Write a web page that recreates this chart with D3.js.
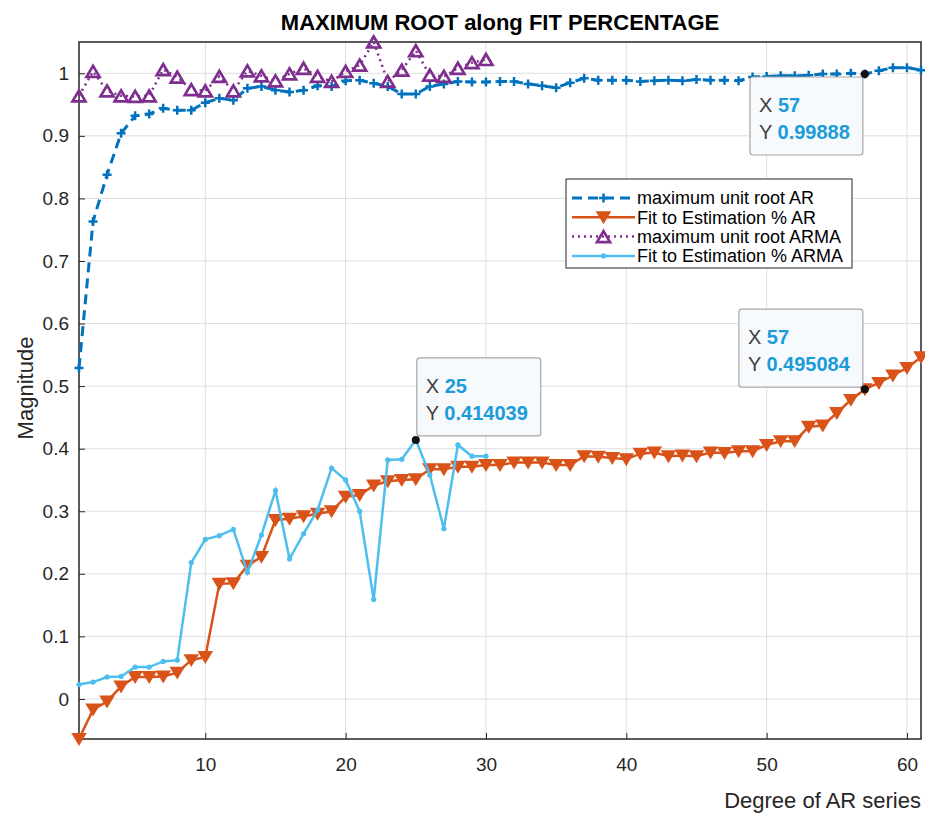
<!DOCTYPE html>
<html>
<head>
<meta charset="utf-8">
<script src="https://cdn.jsdelivr.net/npm/d3@7/dist/d3.min.js"></script>
<style>
  body { margin: 0; background: #fff; }
  svg { font-family: "Liberation Sans", Arial, sans-serif; }
</style>
</head>
<body>
<div id="chart"></div>
<script>

// values, one per AR degree (1..61) or ARMA degree (1..30)
const maxRootAR = [0.529, 0.763, 0.838, 0.904, 0.932, 0.935, 0.944, 0.941, 0.941, 0.953,
    0.960, 0.957, 0.976, 0.979, 0.973, 0.970, 0.973, 0.980, 0.979, 0.988,
    0.989, 0.984, 0.979, 0.967, 0.967, 0.979, 0.983, 0.987, 0.986, 0.986,
    0.987, 0.987, 0.983, 0.980, 0.977, 0.985, 0.992, 0.989, 0.989, 0.989,
    0.987, 0.988, 0.989, 0.988, 0.990, 0.989, 0.989, 0.988, 0.994, 0.995,
    0.996, 0.996, 0.997, 0.999, 0.999, 1.000, 0.99888, 1.004, 1.009, 1.009,
    1.005];

const fitAR = [-0.064, -0.017, -0.004, 0.020, 0.035, 0.035, 0.036, 0.042, 0.062, 0.067,
    0.184, 0.185, 0.213, 0.227, 0.286, 0.288, 0.292, 0.296, 0.300, 0.323,
    0.326, 0.341, 0.348, 0.350, 0.351, 0.367, 0.367, 0.371, 0.371, 0.374,
    0.374, 0.378, 0.378, 0.378, 0.374, 0.374, 0.388, 0.387, 0.385, 0.383,
    0.392, 0.394, 0.388, 0.389, 0.388, 0.394, 0.393, 0.396, 0.396, 0.406,
    0.412, 0.412, 0.435, 0.437, 0.457, 0.478, 0.495084, 0.505, 0.517, 0.529,
    0.546];

const maxRootARMA = [0.964, 1.003, 0.972, 0.964, 0.963, 0.964, 1.006, 0.994, 0.974, 0.972,
    0.995, 0.972, 1.004, 0.996, 0.988, 0.999, 1.008, 0.995, 0.987, 1.003,
    1.013, 1.050, 0.987, 1.005, 1.036, 0.997, 0.995, 1.008, 1.017, 1.022];

const fitARMA = [0.023, 0.027, 0.035, 0.036, 0.051, 0.051, 0.060, 0.062, 0.218, 0.255,
    0.261, 0.271, 0.202, 0.262, 0.333, 0.224, 0.264, 0.302, 0.369, 0.350,
    0.300, 0.159, 0.382, 0.383, 0.414039, 0.358, 0.272, 0.406, 0.388, 0.388];

const seriesNames = ["maximum unit root AR", "Fit to Estimation % AR",
    "maximum unit root ARMA", "Fit to Estimation % ARMA"];

const xTicks = [10, 20, 30, 40, 50, 60];
const yTicks = [0, 0.1, 0.2, 0.3, 0.4, 0.5, 0.6, 0.7, 0.8, 0.9, 1];

// data tips: series index, degree, shown value
const tipSeries = [0, 3, 1];
const tipDegree = [57, 25, 57];
const tipLabel = ["0.99888", "0.414039", "0.495084"];


const W = 925, H = 816;
const margin = {top: 42, right: 4, bottom: 77, left: 79};
const iw = W - margin.left - margin.right;
const ih = H - margin.top - margin.bottom;

const series = [
    {name: seriesNames[0], values: maxRootAR, color: "#0072BD", width: 3, dash: "10,6", marker: "plus"},
    {name: seriesNames[1], values: fitAR, color: "#D95319", width: 2.5, dash: null, marker: "down"},
    {name: seriesNames[2], values: maxRootARMA, color: "#7E2F8E", width: 2.5, dash: "2,4", marker: "up"},
    {name: seriesNames[3], values: fitARMA, color: "#4DBEEE", width: 2.5, dash: null, marker: "dot"}
];

const allValues = [].concat(maxRootAR, fitAR, maxRootARMA, fitARMA);

const x = d3.scaleLinear().domain([1, maxRootAR.length]).range([0, iw]);
const y = d3.scaleLinear().domain(d3.extent(allValues)).range([ih, 0]);

const svg = d3.select("#chart").append("svg")
    .attr("width", W)
    .attr("height", H);

const g = svg.append("g")
    .attr("transform", `translate(${margin.left},${margin.top})`);

// grid
g.append("g").selectAll("line")
    .data(xTicks)
    .enter().append("line")
        .attr("x1", d => x(d)).attr("x2", d => x(d))
        .attr("y1", 0).attr("y2", ih)
        .attr("stroke", "#dedede");

g.append("g").selectAll("line")
    .data(yTicks)
    .enter().append("line")
        .attr("x1", 0).attr("x2", iw)
        .attr("y1", d => y(d)).attr("y2", d => y(d))
        .attr("stroke", "#dedede");

// axes, MATLAB style: inward ticks
const xAxis = g.append("g")
    .attr("transform", `translate(0,${ih})`)
    .call(d3.axisBottom(x).tickValues(xTicks).tickSizeInner(-6).tickSizeOuter(0).tickPadding(19));

const yAxis = g.append("g")
    .call(d3.axisLeft(y).tickValues(yTicks).tickFormat(d3.format("~g")).tickSizeInner(-6).tickSizeOuter(0).tickPadding(10));

[xAxis, yAxis].forEach(a => {
    a.select(".domain").remove();
    a.selectAll("line").attr("stroke", "#262626");
    a.selectAll("text")
        .attr("fill", "#262626")
        .style("font-size", "19px")
        .style("font-family", "'Liberation Sans', Arial, sans-serif");
});

g.append("rect")
    .attr("width", iw).attr("height", ih)
    .attr("fill", "none")
    .attr("stroke", "#262626")
    .attr("stroke-width", 1.5);

function markerPath(type) {
    if (type === "down") return "M-6,-5L6,-5L0,5Z";
    if (type === "up") return "M-6.5,5.5L6.5,5.5L0,-5.5Z";
    if (type === "plus") return "M-4.5,0H4.5M0,-4.5V4.5";
    return null;
}

function drawMarker(sel, s) {
    if (s.marker === "dot") {
        sel.append("circle").attr("r", 2.6).attr("fill", s.color);
    } else {
        sel.append("path")
            .attr("d", markerPath(s.marker))
            .attr("fill", s.marker === "down" ? s.color : "none")
            .attr("stroke", s.color)
            .attr("stroke-width", s.marker === "plus" ? 2.5 : (s.marker === "up" ? 2.7 : 2))
            .attr("stroke-linejoin", "miter");
    }
}

const line = d3.line()
    .x((d, i) => x(i + 1))
    .y(d => y(d));

series.forEach(s => {
    const layer = g.append("g");

    layer.append("path")
        .datum(s.values)
        .attr("d", line)
        .attr("fill", "none")
        .attr("stroke", s.color)
        .attr("stroke-width", s.width)
        .attr("stroke-dasharray", s.dash);

    layer.selectAll("g")
        .data(s.values)
        .enter().append("g")
            .attr("transform", (d, i) => `translate(${x(i + 1)},${y(d)})`)
            .each(function () { drawMarker(d3.select(this), s); });
});

// legend
const legend = g.append("g")
    .attr("transform", `translate(${566 - margin.left},${179 - margin.top})`);

legend.append("rect")
    .attr("width", 286).attr("height", 89)
    .attr("fill", "#fff")
    .attr("stroke", "#262626")
    .attr("stroke-width", 1);

const rows = legend.selectAll("g.row")
    .data(series)
    .enter().append("g")
        .attr("class", "row")
        .attr("transform", (d, i) => `translate(0,${19 + i * 19.3})`);

rows.append("line")
    .attr("x1", 6).attr("x2", 69)
    .attr("stroke", d => d.color)
    .attr("stroke-width", d => d.width)
    .attr("stroke-dasharray", d => d.dash);

rows.append("g")
    .attr("transform", "translate(37.5,0)")
    .each(function (d) { drawMarker(d3.select(this), d); });

rows.append("text")
    .attr("x", 71)
    .attr("dy", "0.35em")
    .attr("fill", "#000")
    .style("font-size", "18px")
    .text(d => d.name);

// data tips
const tipGroup = g.append("g");

tipDegree.forEach((deg, k) => {
    const s = series[tipSeries[k]];
    const px = x(deg), py = y(s.values[deg - 1]);
    const tg = tipGroup.append("g");

    const box = tg.append("rect")
        .attr("rx", 3)
        .attr("fill", "#f7fafd")
        .attr("stroke", "#a6a6a6")
        .attr("stroke-width", 1.2);

    const t1 = tg.append("text").style("font-size", "20px");
    t1.append("tspan").attr("fill", "#404040").text("X ");
    t1.append("tspan").attr("fill", "#1b9bd8").attr("font-weight", "bold").text(deg);

    const t2 = tg.append("text").style("font-size", "20px");
    t2.append("tspan").attr("fill", "#404040").text("Y ");
    t2.append("tspan").attr("fill", "#1b9bd8").attr("font-weight", "bold").text(tipLabel[k]);

    const bw = Math.max(t1.node().getComputedTextLength(), t2.node().getComputedTextLength()) + 22;
    const bh = 78;
    let bx, by;
    if (k === 0) { bx = px - 2 - bw; by = py + 3; }
    else if (k === 1) { bx = px + 1; by = py - 4 - bh; }
    else { bx = px - 2 - bw; by = py - 2 - bh; }

    box.attr("x", bx).attr("y", by).attr("width", bw).attr("height", bh);
    t1.attr("x", bx + 9).attr("y", by + 35);
    t2.attr("x", bx + 9).attr("y", by + 62);

    tg.append("circle")
        .attr("cx", px).attr("cy", py).attr("r", 4)
        .attr("fill", "#111");
});

// title and axis labels
svg.append("text")
    .attr("x", margin.left + iw / 2)
    .attr("y", 30)
    .attr("text-anchor", "middle")
    .attr("font-weight", "bold")
    .attr("fill", "#000")
    .style("font-size", "22px")
    .text("MAXIMUM ROOT along FIT PERCENTAGE");

svg.append("text")
    .attr("x", margin.left + iw)
    .attr("y", 808)
    .attr("text-anchor", "end")
    .attr("fill", "#262626")
    .style("font-size", "22px")
    .text("Degree of AR series");

svg.append("text")
    .attr("transform", "translate(33,388) rotate(-90)")
    .attr("text-anchor", "middle")
    .attr("fill", "#262626")
    .style("font-size", "22px")
    .text("Magnitude");

</script>
</body>
</html>
